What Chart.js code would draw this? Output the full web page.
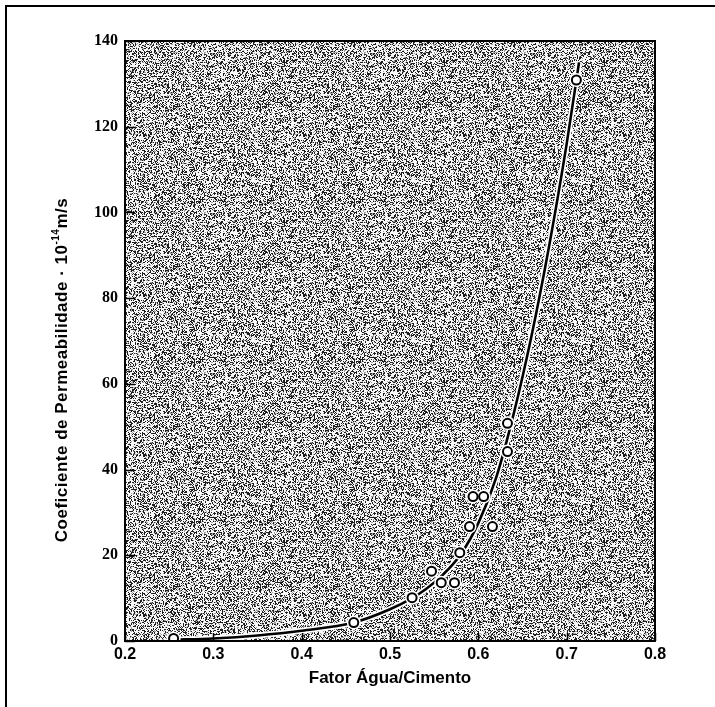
<!DOCTYPE html>
<html>
<head>
<meta charset="utf-8">
<script src="https://cdn.jsdelivr.net/npm/chart.js@4.4.1/dist/chart.umd.min.js"></script>
<style>
  body { margin: 0; background: #fff; }
  #wrap { position: relative; width: 715px; height: 707px; overflow: hidden; }
  #frame { position: absolute; left: 5px; top: 5px; right: -4px; bottom: -4px;
           border-top: 2px solid #000; border-left: 2px solid #000; }
  canvas { position: absolute; left: 0; top: 0; }
</style>
</head>
<body>
<div id="wrap">
  <canvas id="chart_box" width="715" height="707"></canvas>
  <div id="frame"></div>
</div>
<script>
// measured points (fator agua/cimento, permeabilidade 10^-14 m/s)
var ratio = [0.255, 0.459, 0.525, 0.547, 0.558, 0.573, 0.579, 0.590, 0.594, 0.606, 0.616, 0.633, 0.633, 0.711];
var perm  = [0.6,   4.3,   10.1,  16.3,  13.6,  13.6,  20.6,  26.7,  33.7,  33.7,  26.7,  44.2,  50.8,  130.9];

// fitted curve
var curveRatio = [0.255, 0.30, 0.35, 0.40, 0.459, 0.50, 0.525, 0.54, 0.56, 0.58, 0.60, 0.62, 0.64, 0.66, 0.68, 0.70, 0.714];
var curvePerm  = [0.3,   0.6,  1.3,  2.4,  4.3,   7.4,  10.0,  12.0, 15.5, 20.2, 27.5, 38.0, 53.0, 71.0, 92.0, 116.0, 135.0];

var xTicks = [0.2, 0.3, 0.4, 0.5, 0.6, 0.7, 0.8];
var yTicks = [0, 20, 40, 60, 80, 100, 120, 140];

var xTitle = "Fator Água/Cimento";
var yTitle = ["Coeficiente de Permeabilidade · 10", "-14", "m/s"];

function pts(xs, ys) {
    var out = [];
    for (var i = 0; i < xs.length; i++) out.push({x: xs[i], y: ys[i]});
    return out;
}

// speckled grey like the scanned halftone
var grainPattern = null;
function grain(ctx) {
    if (grainPattern) return grainPattern;
    var t = document.createElement('canvas');
    t.width = 160; t.height = 160;
    var tc = t.getContext('2d');
    var img = tc.createImageData(160, 160);
    var seed = 12345;
    for (var i = 0; i < 160 * 160; i++) {
        seed = (seed * 1103515245 + 12345) % 2147483648;
        var r = seed / 2147483648;
        var v = r < 0.32 ? 30 : (r < 0.44 ? 160 : 248);
        img.data[i * 4] = v; img.data[i * 4 + 1] = v; img.data[i * 4 + 2] = v; img.data[i * 4 + 3] = 255;
    }
    tc.putImageData(img, 0, 0);
    grainPattern = ctx.createPattern(t, 'repeat');
    return grainPattern;
}

var paper = {
    id: 'paper',
    beforeDraw: function(c) {
        var a = c.chartArea, ctx = c.ctx;
        ctx.save();
        ctx.fillStyle = grain(ctx);
        ctx.fillRect(a.left, a.top, a.right - a.left, a.bottom - a.top);
        ctx.restore();
    },
    afterDraw: function(c) {
        var a = c.chartArea, ctx = c.ctx;
        var xs = c.scales.x, ys = c.scales.y;
        ctx.save();
        ctx.strokeStyle = '#000';
        ctx.lineWidth = 2;
        ctx.strokeRect(a.left, a.top, a.right - a.left, a.bottom - a.top);
        // inward tick marks
        ctx.beginPath();
        xTicks.forEach(function(v) {
            var px = Math.round(xs.getPixelForValue(v)) + 0.5;
            ctx.moveTo(px, a.bottom); ctx.lineTo(px, a.bottom - 8);
        });
        yTicks.forEach(function(v) {
            var py = Math.round(ys.getPixelForValue(v)) + 0.5;
            ctx.moveTo(a.left, py); ctx.lineTo(a.left + 10, py);
        });
        ctx.lineWidth = 1.5;
        ctx.stroke();

        // y axis title, with superscript
        ctx.fillStyle = '#000';
        ctx.translate(62, 370);
        ctx.rotate(-Math.PI / 2);
        ctx.textBaseline = 'middle';
        ctx.letterSpacing = '0.5px';
        var big = 'bold 17px "Liberation Sans", Arial, sans-serif';
        var small = 'bold 10px "Liberation Sans", Arial, sans-serif';
        ctx.font = big;
        var w0 = ctx.measureText(yTitle[0]).width;
        var w2 = ctx.measureText(yTitle[2]).width;
        ctx.font = small;
        var w1 = ctx.measureText(yTitle[1]).width;
        var x0 = -(w0 + w1 + w2) / 2;
        ctx.font = big;
        ctx.fillText(yTitle[0], x0, 0);
        ctx.font = small;
        ctx.fillText(yTitle[1], x0 + w0, -6);
        ctx.font = big;
        ctx.fillText(yTitle[2], x0 + w0 + w1, 0);
        ctx.restore();
    }
};

var ctx = document.getElementById('chart_box').getContext('2d');
var chart = new Chart(ctx, {
    type: 'scatter',
    data: {
        datasets: [{
            // measured points
            data: pts(ratio, perm),
            pointRadius: 4.5,
            pointBackgroundColor: '#fff',
            pointBorderColor: '#000',
            pointBorderWidth: 2,
            showLine: false,
            order: 0
        }, {
            // white ring round the points
            data: pts(ratio, perm),
            pointRadius: 7,
            pointBackgroundColor: '#fff',
            pointBorderWidth: 0,
            showLine: false,
            order: 1
        }, {
            data: pts(curveRatio, curvePerm),
            showLine: true,
            borderColor: '#000',
            borderWidth: 2.6,
            pointRadius: 0,
            cubicInterpolationMode: 'monotone',
            order: 2
        }, {
            // white halo under the curve
            data: pts(curveRatio, curvePerm),
            showLine: true,
            borderColor: '#fff',
            borderWidth: 6,
            pointRadius: 0,
            cubicInterpolationMode: 'monotone',
            order: 3
        }]
    },
    options: {
        responsive: false,
        animation: false,
        layout: { padding: { top: 41, right: 60, left: 0, bottom: 0 } },
        plugins: { legend: { display: false }, tooltip: { enabled: false } },
        scales: {
            x: {
                type: 'linear', min: 0.2, max: 0.8,
                afterFit: function(s) { s.height = 66; },
                afterBuildTicks: function(s) { s.ticks = xTicks.map(function(v) { return {value: v}; }); },
                grid: { display: false, drawTicks: false },
                border: { display: false },
                ticks: {
                    padding: 4,
                    color: '#000',
                    font: { family: '"Liberation Sans", Arial, sans-serif', weight: 'bold', size: 16 },
                    callback: function(v) { return v.toFixed(1); }
                },
                title: {
                    display: true, text: xTitle, color: '#000', padding: { top: 0, bottom: 18 },
                    font: { family: '"Liberation Sans", Arial, sans-serif', weight: 'bold', size: 17 }
                }
            },
            y: {
                min: 0, max: 140,
                afterFit: function(s) { s.width = 125; },
                afterBuildTicks: function(s) { s.ticks = yTicks.map(function(v) { return {value: v}; }); },
                grid: { display: false, drawTicks: false },
                border: { display: false },
                ticks: {
                    padding: 7,
                    color: '#000',
                    font: { family: '"Liberation Serif", "Times New Roman", serif', weight: 'bold', size: 16 }
                }
            }
        }
    },
    plugins: [paper]
});
</script>
</body>
</html>
